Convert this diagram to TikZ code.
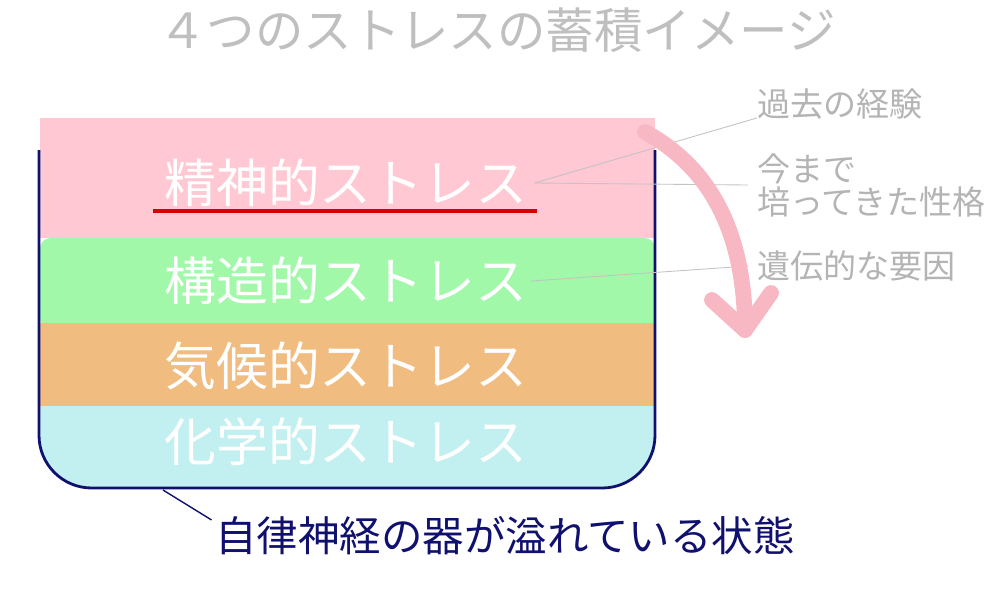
\documentclass[tikz,border=0pt]{standalone}
\usepackage{fontspec}
\setmainfont{Noto Sans CJK JP}
\usetikzlibrary{positioning}

\definecolor{mentalpink}{HTML}{FFC8D2}
\definecolor{structgreen}{HTML}{A0F8A8}
\definecolor{climorange}{HTML}{F0BC80}
\definecolor{chemcyan}{HTML}{C2F0F0}
\definecolor{cupnavy}{HTML}{10106E}
\definecolor{notegray}{HTML}{B4B4B4}
\definecolor{arrowpink}{HTML}{F7B8C4}

\tikzset{
    layertext/.style={anchor=west, text=white, font=\fontsize{29.5}{31}\selectfont, inner sep=0pt},
    notetext/.style={anchor=west, text=notegray, font=\fontsize{18.8}{18.7}\selectfont, inner sep=0pt, align=left},
    leader/.style={draw=notegray!80, line width=0.5pt}
}

\begin{document}
\begin{tikzpicture}[x=0.02cm, y=-0.02cm]
        \useasboundingbox (0,0) rectangle (1000,600);

        % Title
        \node[text=notegray!85, font=\fontsize{27.6}{28}\selectfont, inner sep=0pt] (title) at (497,30) {４つのストレスの蓄積イメージ};

        % Stress layers
        \fill[mentalpink] (40,118) rectangle (655,238);
        \fill[structgreen, rounded corners=6] (40,238) rectangle (655,330);
        \fill[climorange] (40,323) rectangle (655,406);
        \fill[chemcyan, rounded corners=30] (40,406) rectangle (655,488);
        \fill[chemcyan] (40,406) rectangle (655,445);

        % Cup outline
        \draw[cupnavy, line width=1.6pt, rounded corners=30] (39,150) -- (39,488) -- (655,488) -- (655,150);
        \coordinate (cupbottom) at (163,490);

        % Layer labels
        \foreach \y/\name/\label in {183/seishin/精神的ストレス, 281/kouzou/構造的ストレス, 366/kikou/気候的ストレス, 442/kagaku/化学的ストレス}
            {
                \node[layertext] (\name) at (164,\y) {\label};
            }
        \draw[red!85!black, line width=1.8pt] (153,211) -- (537,211);

        % Notes on the right
        \node[notetext] (kako) at (757,104) {過去の経験};
        \node[notetext] (seikaku) at (757,185) {今まで\\培ってきた性格};
        \node[notetext] (iden) at (757,266) {遺伝的な要因};
        \draw[leader] ([xshift=4]seishin.east) -- ([yshift=1]kako.south west);
        \draw[leader] ([xshift=4]seishin.east) -- ([xshift=-5]seikaku.west);
        \draw[leader] ([xshift=2]kouzou.east) -- ([xshift=-5]iden.west);

        % Overflow arrow
        \draw[arrowpink, line width=9pt, line cap=round, line join=round]
            (645,132) .. controls (715,170) and (745,240) .. (745,330);
        \draw[arrowpink, line width=9pt, line cap=round, line join=round]
            (712,300) -- (745,330) -- (771,293);

        % Bottom label
        \node[anchor=west, text=cupnavy, font=\fontsize{23.6}{24}\selectfont, inner sep=0pt] (overflow) at (215,536) {自律神経の器が溢れている状態};
        \draw[cupnavy, line width=0.8pt] (cupbottom) -- ([xshift=-2,yshift=-2]overflow.north west);
\end{tikzpicture}
\end{document}
